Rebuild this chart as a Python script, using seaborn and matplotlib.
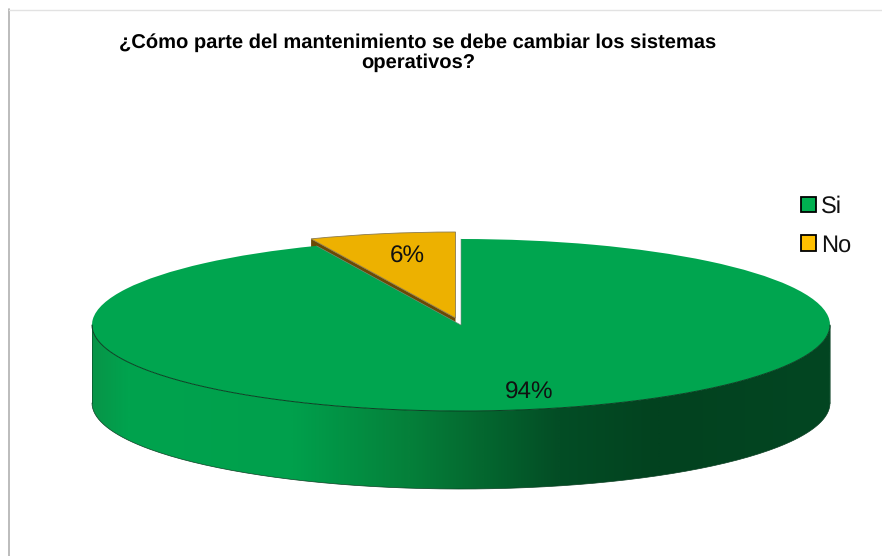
import numpy as np
import matplotlib
matplotlib.use("Agg")
import matplotlib.pyplot as plt
from matplotlib.patches import Wedge, Patch, PathPatch
from matplotlib.path import Path
from matplotlib.lines import Line2D
from matplotlib.colors import to_rgb
import seaborn as sns

# datos
categorias = ["Si", "No"]
valores = [93.6, 6.4]
titulo = "¿Cómo parte del mantenimiento se debe cambiar los sistemas\noperativos?"

sns.set_theme(style="white")
plt.rcParams["font.family"] = ["Liberation Sans", "DejaVu Sans"]
plt.rcParams["text.hinting"] = "no_hinting"

W, H = 882, 556
cx, cy, rx, ry = 461, 325, 369, 86
depth = 78 / ry

fig = plt.figure(figsize=(W / 100, H / 100), dpi=100)
ax = fig.add_axes([0, 0, 1, 1])
# una unidad = radio de la elipse, asi Wedge sale como pie aplastado
ax.set_xlim(-cx / rx, (W - cx) / rx)
ax.set_ylim((cy - H) / ry, cy / ry)
ax.axis("off")

verde = "#00A54F"
amarillo = "#EDB100"
marron = "#6B4A05"
borde_osc = "#0A3F22"

# angulos desde los valores, empezando en las 12 en sentido horario
ang_no = valores[1] / sum(valores) * 360
t1, t2 = 90, 90 + ang_no

# trozo "No" separado
dx, dy = -5.5 / rx, 7 / ry
tip = (dx, dy)
a = np.radians(t2)
borde = (dx + np.cos(a), dy + np.sin(a))
lado = np.array([tip, borde, (borde[0], borde[1] - 12 / ry), (tip[0], tip[1] - 12 / ry)])
ax.fill(lado[:, 0], lado[:, 1], color=marron, lw=0, zorder=1)
ax.add_patch(Wedge(tip, 1, t1, t2, fc=amarillo, ec="#8a7a50", lw=0.6, zorder=2))

# pared lateral con degradado (paradas a lo largo del ancho)
paradas = [0, 0.05, 0.27, 0.43, 0.53, 0.635, 0.77, 1]
cols = ["#089548", "#00A34E", "#00A04C", "#05803A", "#04672F", "#034D25", "#02421F", "#034622"]
pal = []
for i in range(len(cols) - 1):
    pal += sns.blend_palette(cols[i:i + 2], max(2, int((paradas[i + 1] - paradas[i]) * 400)))
grad = np.array([to_rgb(c) for c in pal])[None, :, :]
t = np.radians(np.linspace(180, 360, 200))
xs = np.cos(t)
ys = np.sin(t)
verts = np.r_[np.c_[xs, ys], np.c_[xs[::-1], ys[::-1] - depth], [[xs[0], ys[0]]]]
clip = PathPatch(Path(verts), fc="none", ec="none", transform=ax.transData)
ax.add_patch(clip)
im = ax.imshow(grad, extent=[-1, 1, -1 - depth, 0], aspect="auto", zorder=3,
               interpolation="bilinear")
im.set_clip_path(clip)
ax.set_xlim(-cx / rx, (W - cx) / rx)
ax.set_ylim((cy - H) / ry, cy / ry)

# trozo "Si"
ax.add_patch(Wedge((0, 0), 1, t2, t1 + 360, fc=verde, ec="none", zorder=4))
ax.plot(xs, ys, color=borde_osc, lw=0.7, zorder=5)
ax.plot(xs, ys - depth, color=borde_osc, lw=0.5, zorder=5)
ax.plot([-1, -1], [0, -depth], color=borde_osc, lw=0.4, zorder=5)
ax.plot([1, 1], [0, -depth], color=borde_osc, lw=0.4, zorder=5)
# filo del corte en el trozo verde
ax.plot([0, 0, np.cos(a)], [1, 0, np.sin(a)], color="#7f8f85", lw=0.4, zorder=5)

# etiquetas
ax.text((529 - cx) / rx, (cy - 393) / ry, f"{valores[0]:.0f}%", fontsize=17.5,
        ha="center", va="center", color="#111111", zorder=6)
ax.text((407.5 - cx) / rx, (cy - 257) / ry, f"{valores[1]:.0f}%", fontsize=17.5,
        ha="center", va="center", color="#111111", zorder=6)

fig.text(418 / W, 1 - 52.5 / H, titulo, fontsize=14.5, fontweight="bold", ha="center",
         va="center", color="black", linespacing=1.12)

handles = [Patch(fc="#00B050", ec="black", lw=1.3), Patch(fc="#FFC000", ec="black", lw=1.3)]
fig.legend(handles, categorias, loc="center left", bbox_to_anchor=(780 / W, 1 - 226 / H),
           frameon=False, fontsize=17, handlelength=0.63, handleheight=0.63,
           handletextpad=0.2, labelspacing=0.68, labelcolor="#111111")

# marco del grafico
fig.add_artist(Line2D([8.5 / W, 8.5 / W], [0, 1 - 9 / H], color="#b0b0b0", lw=1.2))
fig.add_artist(Line2D([8.5 / W, 1], [1 - 9.5 / H, 1 - 9.5 / H], color="#e2e2e2", lw=1))

fig.savefig("out.png", dpi=100)
